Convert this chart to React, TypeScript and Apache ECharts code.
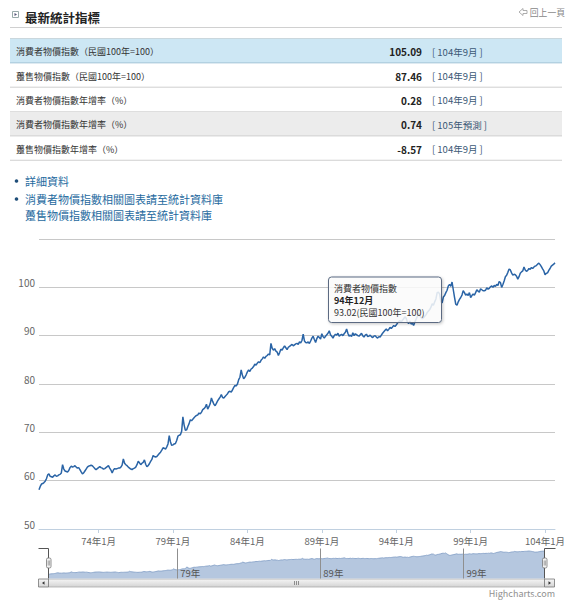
import React, { useEffect, useRef } from "react";
import * as echarts from "echarts";

const FONT = '"Noto Sans CJK TC", "Noto Sans", sans-serif';

// 消費者物價指數 (民國100年=100), monthly, 70年1月 – 104年9月
const cpi70 = [58.1, 58.8, 59.3, 59.4, 59.6, 59.9, 60.4, 61.2, 61.4, 60.9, 60.8, 60.7];
const cpi71 = [61.0, 61.2, 60.9, 61.0, 61.2, 61.3, 61.6, 63.3, 62.4, 62.0, 61.9, 61.8];
const cpi72 = [62.1, 62.7, 63.0, 62.8, 62.9, 63.1, 62.8, 62.6, 62.7, 62.3, 61.8, 61.4];
const cpi73 = [61.6, 62.0, 62.4, 62.8, 63.0, 63.1, 63.2, 63.1, 62.8, 62.5, 62.3, 62.5];
const cpi74 = [62.7, 62.9, 62.7, 62.6, 62.4, 62.5, 62.7, 62.9, 63.1, 62.6, 62.2, 61.6];
const cpi75 = [62.2, 62.5, 62.4, 62.5, 62.6, 62.6, 62.8, 63.2, 64.5, 63.6, 63.3, 63.1];
const cpi76 = [62.8, 62.6, 62.4, 62.3, 62.5, 62.6, 62.8, 63.3, 64.0, 63.7, 63.3, 63.6];
const cpi77 = [63.8, 64.3, 63.4, 62.9, 63.1, 63.5, 64.0, 64.4, 65.2, 65.0, 64.9, 65.0];
const cpi78 = [65.3, 65.6, 65.9, 66.3, 66.8, 66.7, 66.5, 67.0, 67.6, 69.3, 68.0, 67.3];
const cpi79 = [67.4, 67.6, 67.7, 68.3, 69.2, 69.4, 69.5, 70.2, 73.2, 71.5, 70.4, 70.5];
const cpi80 = [71.2, 71.8, 72.6, 72.4, 72.7, 73.0, 73.3, 73.5, 73.6, 74.0, 73.8, 74.2];
const cpi81 = [74.7, 74.9, 75.2, 75.8, 74.8, 75.3, 75.9, 77.1, 76.4, 75.8, 75.5, 76.0];
const cpi82 = [76.5, 76.9, 77.3, 77.8, 77.2, 77.1, 77.4, 77.7, 78.0, 78.4, 78.5, 78.3];
const cpi83 = [78.8, 79.3, 79.7, 79.6, 80.0, 80.9, 81.4, 82.9, 81.8, 81.1, 81.4, 81.9];
const cpi84 = [82.5, 82.9, 82.6, 83.1, 83.3, 83.6, 84.1, 83.9, 84.3, 84.6, 84.4, 84.9];
const cpi85 = [85.2, 85.6, 85.3, 85.7, 85.9, 86.2, 86.0, 88.4, 87.4, 87.0, 87.3, 86.8];
const cpi86 = [86.6, 85.9, 86.5, 87.2, 87.0, 87.5, 87.9, 87.5, 87.1, 87.6, 87.8, 88.0];
const cpi87 = [88.2, 87.9, 88.1, 88.3, 88.4, 88.2, 88.7, 88.5, 89.0, 90.3, 88.9, 88.6];
const cpi88 = [88.5, 88.7, 88.4, 88.9, 89.5, 89.9, 89.2, 88.6, 89.4, 89.9, 89.6, 89.3];
const cpi89 = [90.4, 89.8, 89.5, 89.9, 90.2, 90.5, 91.0, 90.2, 89.9, 89.5, 90.0, 90.3];
const cpi90 = [90.1, 90.5, 89.9, 90.1, 90.3, 90.0, 90.4, 90.7, 91.4, 90.5, 89.9, 90.1];
const cpi91 = [89.8, 90.6, 90.0, 90.4, 90.2, 90.0, 89.9, 90.2, 90.5, 90.0, 89.7, 90.1];
const cpi92 = [90.3, 89.8, 89.9, 90.1, 89.8, 89.6, 89.9, 90.0, 89.7, 89.5, 89.8, 89.7];
const cpi93 = [90.1, 90.5, 90.8, 91.1, 91.4, 91.0, 91.3, 91.7, 91.5, 91.8, 92.1, 91.9];
const cpi94 = [92.2, 92.6, 92.9, 93.1, 92.8, 93.2, 93.5, 93.9, 93.6, 92.8, 92.5, 93.02];
const cpi95 = [92.4, 92.6, 92.1, 92.8, 93.4, 94.0, 94.5, 94.2, 93.8, 93.5, 93.7, 94.0];
const cpi96 = [94.3, 94.8, 95.1, 95.4, 95.9, 96.6, 96.3, 97.0, 97.6, 98.9, 99.0, 98.6];
const cpi97 = [97.0, 96.8, 98.0, 98.3, 98.9, 99.4, 100.3, 100.6, 100.2, 101.1, 99.5, 97.9];
const cpi98 = [96.5, 96.3, 97.0, 97.5, 97.9, 98.4, 99.3, 98.9, 98.4, 98.6, 98.3, 98.9];
const cpi99 = [97.9, 98.3, 98.6, 98.4, 98.9, 99.5, 99.2, 99.0, 99.7, 99.5, 99.3, 99.3];
const cpi100 = [99.4, 99.9, 99.6, 99.8, 100.1, 100.3, 100.0, 100.4, 100.2, 100.6, 100.4, 101.2];
const cpi101 = [101.0, 100.0, 100.6, 101.3, 102.2, 102.5, 103.1, 103.8, 103.6, 103.0, 102.5, 102.7];
const cpi102 = [102.6, 102.3, 101.7, 102.2, 102.9, 103.2, 103.4, 104.2, 103.6, 103.3, 103.5, 103.9];
const cpi103 = [103.7, 104.1, 103.9, 104.2, 104.4, 104.5, 104.8, 105.0, 104.7, 104.3, 103.8, 103.4];
const cpi104 = [102.6, 102.9, 103.0, 103.5, 103.9, 104.4, 104.6, 104.8, 105.09];

const yearBlocks: [number, number[]][] = [
  [70, cpi70], [71, cpi71], [72, cpi72], [73, cpi73], [74, cpi74], [75, cpi75], [76, cpi76],
  [77, cpi77], [78, cpi78], [79, cpi79], [80, cpi80], [81, cpi81], [82, cpi82], [83, cpi83],
  [84, cpi84], [85, cpi85], [86, cpi86], [87, cpi87], [88, cpi88], [89, cpi89], [90, cpi90],
  [91, cpi91], [92, cpi92], [93, cpi93], [94, cpi94], [95, cpi95], [96, cpi96], [97, cpi97],
  [98, cpi98], [99, cpi99], [100, cpi100], [101, cpi101], [102, cpi102], [103, cpi103], [104, cpi104],
];

const categories: string[] = [];
const cpiValues: number[] = [];
yearBlocks.forEach(([y, arr]) => {
  arr.forEach((v, i) => {
    categories.push(`${y}年${i + 1}月`);
    cpiValues.push(v);
  });
});

const seriesName = "消費者物價指數";
const seriesUnit = "(民國100年=100)";
const tooltipCategory = "94年12月";

// Table
const rowLabels = [
  "消費者物價指數（民國100年=100）",
  "躉售物價指數（民國100年=100）",
  "消費者物價指數年增率（%）",
  "消費者物價指數年增率（%）",
  "躉售物價指數年增率（%）",
];
const rowValues = ["105.09", "87.46", "0.28", "0.74", "-8.57"];
const rowPeriods = ["104年9月", "104年9月", "104年9月", "105年預測", "104年9月"];

const linkTexts = [
  "詳細資料",
  "消費者物價指數相關圖表請至統計資料庫",
  "躉售物價指數相關圖表請至統計資料庫",
];

function txt(x: number, y: number, text: string, o: any = {}) {
  return {
    type: "text",
    x,
    y,
    z: o.z ?? 10,
    style: {
      text,
      fill: o.fill ?? "#333",
      fontSize: o.fontSize ?? 10,
      fontWeight: o.fontWeight ?? "normal",
      fontFamily: FONT,
      align: o.align ?? "left",
      textAlign: o.align ?? "left",
      verticalAlign: "middle",
      textVerticalAlign: "middle",
    },
  };
}

export default function App() {
  const ref = useRef<HTMLDivElement>(null);

  useEffect(() => {
    if (!ref.current) return;
    const chart = echarts.init(ref.current, undefined, { renderer: "svg" });

    const graphics: any[] = [];

    // header icon
    graphics.push({
      type: "rect",
      shape: { x: 12.5, y: 11.5, width: 6, height: 6 },
      style: { fill: "#fff", stroke: "#9aa", lineWidth: 1 },
    });
    graphics.push({
      type: "polygon",
      shape: { points: [[14.5, 13], [17, 14.5], [14.5, 16]] },
      style: { fill: "#557" },
    });
    graphics.push(txt(25, 17, "最新統計指標", { fontSize: 12.5, fontWeight: "bold", fill: "#222" }));
    graphics.push(txt(565, 12, "回上一頁", { fontSize: 8.8, fill: "#888", align: "right" }));
    graphics.push({
      type: "polygon",
      shape: { points: [[519, 12], [523, 8.5], [523, 10.5], [527, 10.5], [527, 13.5], [523, 13.5], [523, 15.5]] },
      style: { fill: "#fff", stroke: "#999", lineWidth: 0.8 },
    });
    graphics.push({
      type: "line",
      shape: { x1: 10, y1: 27.5, x2: 562, y2: 27.5 },
      style: { stroke: "#d0d0d0", lineWidth: 1 },
    });

    // table
    const rowTop = 38.5;
    const rowH = 24.35;
    graphics.push({
      type: "line",
      shape: { x1: 10, y1: rowTop, x2: 562, y2: rowTop },
      style: { stroke: "#c6c6c6", lineWidth: 1 },
    });
    rowLabels.forEach((label, i) => {
      const y0 = rowTop + i * rowH;
      if (i === 0) {
        graphics.push({
          type: "rect",
          shape: { x: 10, y: y0, width: 552, height: rowH },
          style: { fill: "#cde7f4", stroke: "none" },
        });
      } else if (i === 3) {
        graphics.push({
          type: "rect",
          shape: { x: 10, y: y0, width: 552, height: rowH },
          style: { fill: "#ececec", stroke: "none" },
        });
      }
      graphics.push({
        type: "line",
        shape: { x1: 10, y1: y0 + rowH, x2: 562, y2: y0 + rowH },
        style: { stroke: i === 0 ? "#9fc3d6" : "#cfcfcf", lineWidth: 1 },
      });
      const cy = y0 + rowH / 2 + 1;
      graphics.push(txt(16, cy, label, { fontSize: 9, fill: "#333" }));
      graphics.push(txt(422, cy, rowValues[i], { fontSize: 10, fontWeight: "bold", fill: "#222", align: "right" }));
      graphics.push(txt(432, cy, `[ ${rowPeriods[i]} ]`, { fontSize: 9.5, fill: "#3b5876" }));
    });

    // links
    const linkY = [181, 199, 214.5];
    linkTexts.forEach((t, i) => {
      if (i < 2) {
        graphics.push({
          type: "circle",
          shape: { cx: 16.5, cy: linkY[i], r: 1.8 },
          style: { fill: "#1f4e79" },
        });
      }
      graphics.push(txt(25, linkY[i], t, { fontSize: 11, fill: "#1e6a9e" }));
    });

    // tooltip
    const tipIdx = categories.indexOf(tooltipCategory);
    const tipVal = cpiValues[tipIdx];
    graphics.push({
      type: "rect",
      z: 100,
      shape: { x: 328.5, y: 277, width: 113, height: 45.5, r: 3 },
      style: {
        fill: "rgba(255,255,255,0.82)",
        stroke: "#5b6b82",
        lineWidth: 1,
        shadowBlur: 3,
        shadowOffsetX: 1,
        shadowOffsetY: 1,
        shadowColor: "rgba(0,0,0,0.25)",
      },
    });
    graphics.push(txt(334, 288, seriesName, { fontSize: 9, fill: "#333", z: 101 }));
    graphics.push(txt(334, 300, tooltipCategory, { fontSize: 9, fontWeight: "bold", fill: "#222", z: 101 }));
    graphics.push(txt(334, 312, `${tipVal.toFixed(2)}${seriesUnit}`, { fontSize: 9, fill: "#333", z: 101 }));

    // navigator outline & handles
    graphics.push({
      type: "polyline",
      z: 50,
      shape: { points: [[38.5, 548.5], [48.5, 548.5], [48.5, 578.5]] },
      style: { stroke: "#555", lineWidth: 1, fill: "none" },
    });
    graphics.push({
      type: "polyline",
      z: 50,
      shape: { points: [[544.5, 578.5], [544.5, 548.5], [555.5, 548.5]] },
      style: { stroke: "#555", lineWidth: 1, fill: "none" },
    });
    [46.5, 542.5].forEach((hx) => {
      graphics.push({
        type: "rect",
        z: 51,
        shape: { x: hx, y: 558, width: 4.5, height: 10, r: 1.5 },
        style: { fill: "#f2f2f2", stroke: "#777", lineWidth: 0.8 },
      });
      graphics.push({
        type: "line",
        z: 52,
        shape: { x1: hx + 1.7, y1: 560.5, x2: hx + 1.7, y2: 565.5 },
        style: { stroke: "#777", lineWidth: 0.6 },
      });
      graphics.push({
        type: "line",
        z: 52,
        shape: { x1: hx + 2.9, y1: 560.5, x2: hx + 2.9, y2: 565.5 },
        style: { stroke: "#777", lineWidth: 0.6 },
      });
    });

    // scrollbar
    const grad = new echarts.graphic.LinearGradient(0, 0, 0, 1, [
      { offset: 0, color: "#f6f6f6" },
      { offset: 1, color: "#d4d4d4" },
    ]);
    graphics.push({
      type: "rect",
      shape: { x: 48.5, y: 579, width: 496, height: 8 },
      style: { fill: grad, stroke: "#aaa", lineWidth: 0.8 },
    });
    graphics.push({
      type: "rect",
      shape: { x: 38.5, y: 579, width: 10, height: 8 },
      style: { fill: grad, stroke: "#777", lineWidth: 0.8 },
    });
    graphics.push({
      type: "rect",
      shape: { x: 544.5, y: 579, width: 10, height: 8 },
      style: { fill: grad, stroke: "#777", lineWidth: 0.8 },
    });
    graphics.push({
      type: "polygon",
      shape: { points: [[42, 583], [44.5, 581.2], [44.5, 584.8]] },
      style: { fill: "#333" },
    });
    graphics.push({
      type: "polygon",
      shape: { points: [[551, 583], [548.5, 581.2], [548.5, 584.8]] },
      style: { fill: "#333" },
    });
    [294.5, 296.5, 298.5].forEach((gx) => {
      graphics.push({
        type: "line",
        shape: { x1: gx, y1: 581, x2: gx, y2: 585 },
        style: { stroke: "#777", lineWidth: 0.8 },
      });
    });
    graphics.push(txt(555, 593, "Highcharts.com", { fontSize: 9, fill: "#909090", align: "right" }));

    const labelEvery5y = (i: number) => i % 60 === 48;
    const navEvery10y = (i: number) => i % 120 === 108;

    chart.setOption({
      animation: false,
      textStyle: { fontFamily: FONT },
      grid: [
        { left: 39, top: 239, width: 516, height: 290 },
        { left: 48.5, top: 548.5, width: 496, height: 30 },
      ],
      xAxis: [
        {
          type: "category",
          gridIndex: 0,
          data: categories,
          boundaryGap: false,
          axisLine: { show: true, lineStyle: { color: "#c0d0e0" } },
          axisTick: { show: true, length: 4, interval: labelEvery5y, lineStyle: { color: "#c0d0e0" } },
          axisLabel: { interval: labelEvery5y, color: "#666", fontSize: 9.5, margin: 7, fontFamily: FONT },
          splitLine: { show: false },
        },
        {
          type: "category",
          gridIndex: 1,
          z: 5,
          data: categories,
          boundaryGap: false,
          axisLine: { show: false },
          axisTick: { show: false },
          axisLabel: {
            show: true,
            inside: true,
            interval: navEvery10y,
            formatter: (v: string) => v.split("年")[0] + "年",
            align: "left",
            color: "#555",
            fontSize: 9.5,
            margin: 1,
            padding: [0, 0, 0, 3],
            fontFamily: FONT,
          },
          splitLine: { show: true, interval: navEvery10y, lineStyle: { color: "#8f8f8f", width: 1 } },
        },
      ],
      yAxis: [
        {
          type: "value",
          gridIndex: 0,
          min: 50,
          max: 110,
          interval: 10,
          axisLine: { show: false },
          axisTick: { show: false },
          axisLabel: {
            showMaxLabel: false,
            color: "#666",
            fontSize: 10,
            margin: 4,
            verticalAlign: "bottom",
            fontFamily: FONT,
          },
          splitLine: { lineStyle: { color: "#c8c8c8", width: 1 } },
        },
        {
          type: "value",
          gridIndex: 1,
          min: 50,
          max: 110,
          show: false,
          splitLine: { show: false },
        },
      ],
      series: [
        {
          type: "line",
          name: seriesName,
          xAxisIndex: 0,
          yAxisIndex: 0,
          data: cpiValues,
          symbol: "none",
          lineStyle: { color: "#2a64a6", width: 1.5 },
        },
        {
          type: "line",
          xAxisIndex: 1,
          yAxisIndex: 1,
          z: 1,
          data: cpiValues,
          symbol: "none",
          lineStyle: { color: "#7f9cc4", width: 0.8 },
          areaStyle: { color: "#b5c7df", opacity: 1 },
        },
      ],
      graphic: graphics,
    });

    return () => chart.dispose();
  }, []);

  return (
    <div
      ref={ref}
      style={{ position: "fixed", left: 0, top: 0, width: 588, height: 600, background: "#fff" }}
    />
  );
}
